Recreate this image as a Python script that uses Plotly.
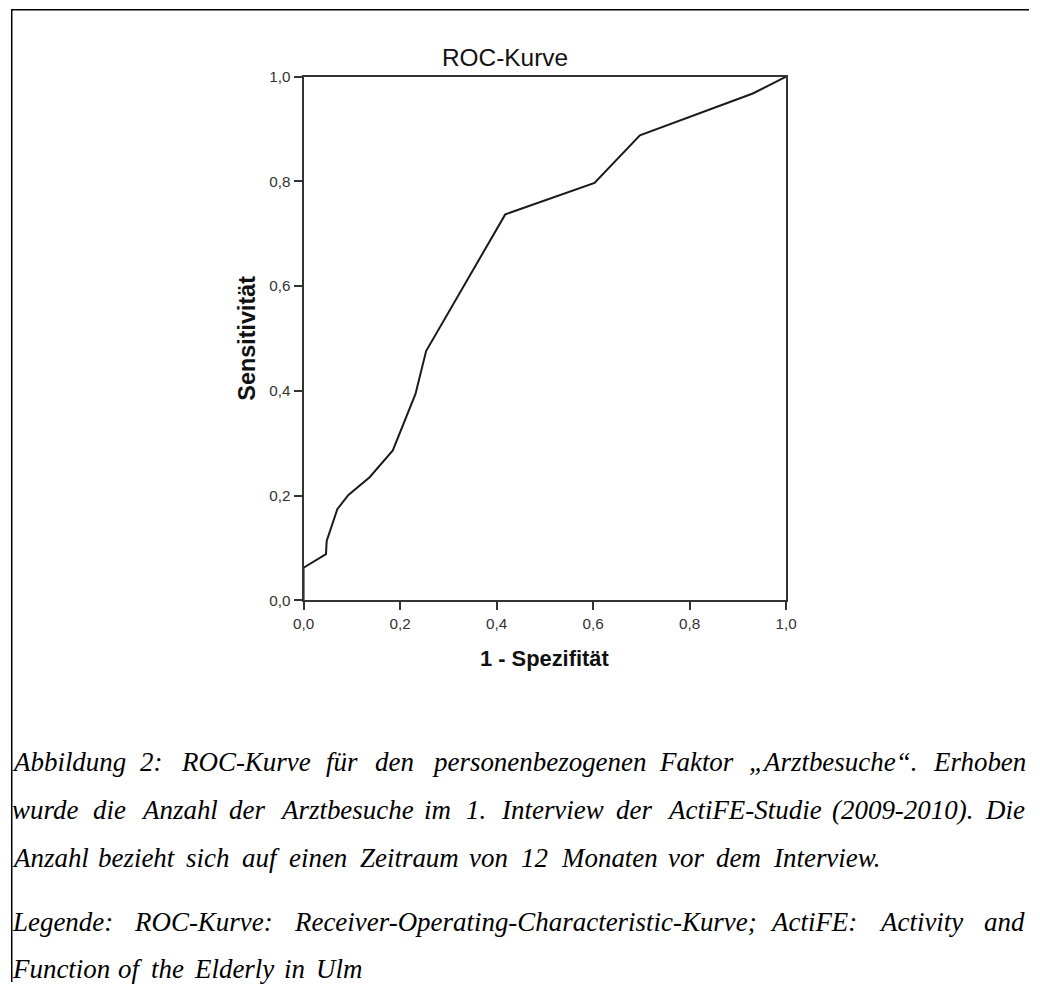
import plotly.graph_objects as go

# ---------------- data ----------------
fpr = [0.0, 0.0, 0.0465, 0.0480, 0.0700, 0.0930, 0.1370, 0.1850, 0.2320, 0.2540,
       0.4180, 0.6030, 0.6970, 0.9310, 1.0]
tpr = [0.0, 0.062, 0.088, 0.113, 0.174, 0.201, 0.235, 0.286, 0.394, 0.476,
       0.737, 0.797, 0.888, 0.968, 1.0]
tick_vals = [0.0, 0.2, 0.4, 0.6, 0.8, 1.0]
tick_text = ["0,0", "0,2", "0,4", "0,6", "0,8", "1,0"]

chart_title = "ROC-Kurve"
x_title = "1 - Spezifität"
y_title = "Sensitivität"

caption_lines = [
    "Abbildung 2: ROC-Kurve für den personenbezogenen Faktor „Arztbesuche“. Erhoben",
    "wurde die Anzahl der Arztbesuche im 1. Interview der ActiFE-Studie (2009-2010). Die",
    "Anzahl bezieht sich auf einen Zeitraum von 12 Monaten vor dem Interview.",
    "Legende: ROC-Kurve: Receiver-Operating-Characteristic-Kurve; ActiFE: Activity and",
    "Function of the Elderly in Ulm",
]

# ---------------- layout helpers ----------------
# Positions are given in pixels of the target picture; the page is captured with a
# small border, so they are mapped into figure paper coordinates here.
FW, FH = 1040, 990
DX, DY = 7.5, 9.6
SX = FW / (FW + 2 * DX)
SY = FH / (FH + 2 * DY)
SF = (SX + SY) / 2

def fx(t):
    return (t / SX - DX) / FW
def fy(t):
    return 1 - (t / SY - DY) / FH
def fs(s):
    return s / SF

# Times italic advance widths (1/1000 em) for word placement
TW = {' ': 250, 'A': 611, 'C': 667, 'D': 722, 'E': 611, 'F': 611, 'I': 333, 'K': 667,
      'L': 556, 'M': 833, 'O': 722, 'R': 611, 'S': 500, 'U': 722, 'Z': 556,
      'a': 500, 'b': 500, 'c': 444, 'd': 500, 'e': 444, 'f': 278, 'g': 500, 'h': 500,
      'i': 278, 'k': 444, 'l': 278, 'm': 722, 'n': 500, 'o': 500, 'p': 500, 'r': 389,
      's': 389, 't': 278, 'u': 500, 'v': 444, 'w': 667, 'y': 444, 'z': 389,
      'ä': 500, 'ü': 500, ':': 333, ';': 333, '.': 250, ',': 250, '-': 333,
      '(': 333, ')': 333, '„': 556, '“': 556}
def tw(word, size):
    return sum(TW.get(c, 500) for c in word) * size / 1000.0

cap_size = 26.5          # in target pixels
cap_x0 = 9
text_pad = 2             # inner offset of annotation text
cap_y = [761, 809, 857, 921, 968]
# (index of anchor word, target start x of that word, or None -> target line end)
cap_anchor = [(8, 947, None), (11, 992, None), (None, None, 883), (5, 1013, None), (4, 283, None)]
right_limit = 1028

fig = go.Figure()
fig.add_trace(go.Scatter(
    x=fpr, y=tpr, mode="lines",
    line=dict(color="#1a1a1a", width=2),
    hoverinfo="skip", showlegend=False,
))

axis_common = dict(
    range=[0, 1], tickvals=tick_vals, ticktext=tick_text,
    showgrid=False, zeroline=False,
    showline=True, mirror=True, linecolor="#333333", linewidth=2,
    ticks="outside", ticklen=8, tickwidth=1.5, tickcolor="#333333",
    tickfont=dict(family="Liberation Sans, Arial, sans-serif", size=fs(15), color="#333333"),
    fixedrange=True,
)
fig.update_layout(
    width=FW, height=FH,
    margin=dict(l=0, r=0, t=0, b=0, pad=0),
    paper_bgcolor="white", plot_bgcolor="white",
    xaxis=dict(domain=[fx(302), fx(788)], **axis_common),
    yaxis=dict(domain=[fy(599.5), fy(77)], **axis_common),
    showlegend=False,
)

ann = []
ann.append(dict(x=fx(504.5), y=fy(58), xref="paper", yref="paper", text=chart_title,
                showarrow=False, xanchor="center", yanchor="middle",
                font=dict(family="Liberation Sans, Arial, sans-serif", size=fs(24), color="#111111")))
ann.append(dict(x=fx(545), y=fy(658), xref="paper", yref="paper", text=x_title,
                showarrow=False, xanchor="center", yanchor="middle",
                font=dict(family="Liberation Sans, Arial, sans-serif", size=fs(21.5), color="#111111",
                          weight="bold")))
ann.append(dict(x=fx(245), y=fy(337.5), xref="paper", yref="paper", text=y_title,
                showarrow=False, xanchor="center", yanchor="middle", textangle=-90,
                font=dict(family="Liberation Sans, Arial, sans-serif", size=fs(23), color="#111111",
                          weight="bold")))

for line, yc, (ai, ax, aend) in zip(caption_lines, cap_y, cap_anchor):
    words = line.split(" ")
    widths = [tw(w, cap_size) for w in words]
    if ai is not None:
        gap = (ax - cap_x0 - sum(widths[:ai])) / ai
    else:
        gap = (aend - cap_x0 - sum(widths)) / (len(words) - 1)
    # a line that would run past the right edge is justified to the edge instead
    if cap_x0 + sum(widths) + gap * (len(words) - 1) > right_limit:
        gap = (right_limit - cap_x0 - sum(widths)) / (len(words) - 1)
    x = cap_x0
    for word, w in zip(words, widths):
        ann.append(dict(x=fx(x - text_pad), y=fy(yc), xref="paper", yref="paper", text=word,
                        showarrow=False, xanchor="left", yanchor="middle", borderpad=0,
                        font=dict(family="Liberation Serif, Times New Roman, serif",
                                  size=fs(cap_size), color="#000000", style="italic")))
        x += w + gap

fig.update_layout(annotations=ann)

# page frame (top and left edges)
fig.add_shape(type="line", xref="paper", yref="paper", x0=0.0, x1=1.0,
              y0=1 - 0.75 / FH, y1=1 - 0.75 / FH, line=dict(color="#000000", width=1.5))
fig.add_shape(type="line", xref="paper", yref="paper", x0=0.75 / FW, x1=0.75 / FW,
              y0=1 - 0.75 / FH, y1=0.0, line=dict(color="#000000", width=1.5))

fig.write_html("out.html", config={"displayModeBar": False},
               post_script="document.body.style.margin='0px';document.body.style.overflow='hidden';")
